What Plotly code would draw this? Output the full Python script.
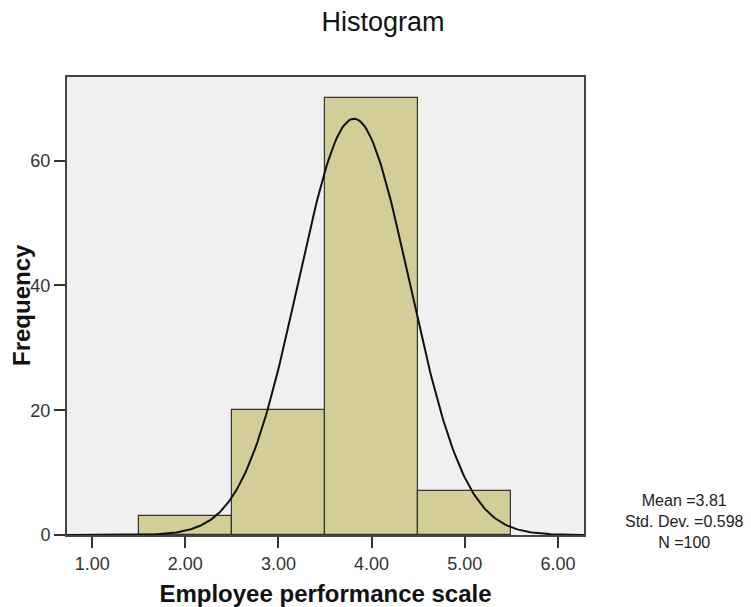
import numpy as np
import plotly.graph_objects as go

# Data
bin_centers = [2.0, 3.0, 4.0, 5.0]
frequencies = [3, 20, 70, 7]
bin_width = 1.0
mean_val = 3.81
std_val = 0.598
n_val = 100
x_ticks = [1, 2, 3, 4, 5, 6]
y_ticks = [0, 20, 40, 60]
stats_lines = [f"Mean ={mean_val:.2f}", f"Std. Dev. ={std_val:.3f}", f"N ={n_val}"]

fig = go.Figure()
fig.add_trace(go.Bar(
    x=bin_centers, y=frequencies, width=bin_width,
    marker=dict(color="#D3CE97", line=dict(color="#333333", width=1.2)),
    hoverinfo="x+y", showlegend=False,
))

# fitted normal curve, from the stated mean / std / N
xs = np.linspace(0.73, 6.28, 300)
ys = n_val * bin_width / (std_val * np.sqrt(2 * np.pi)) * np.exp(-0.5 * ((xs - mean_val) / std_val) ** 2)
fig.add_trace(go.Scatter(x=xs, y=ys, mode="lines",
                         line=dict(color="#111111", width=2), showlegend=False, hoverinfo="skip"))

font_family = "Liberation Sans, Arial, sans-serif"
L, R, T, B = 67, 167, 77, 72
W, H = 751, 607
PW, PH = W - L - R, H - T - B
fig.update_layout(
    width=W, height=H,
    margin=dict(l=L, r=R, t=T, b=B, autoexpand=False),
    paper_bgcolor="white", plot_bgcolor="#F0F0F0",
    bargap=0,
    title=dict(text="Histogram", x=383 / W, xanchor="center", y=1 - 22 / H, yanchor="middle",
               font=dict(family=font_family, size=27, color="#111111")),
    font=dict(family=font_family, size=18, color="#333333"),
    xaxis=dict(range=[0.73, 6.28], tickvals=x_ticks, tickformat=".2f", automargin=False,
               ticks="outside", ticklen=11, tickcolor="#333333", tickwidth=1.5,
               showgrid=False, zeroline=False,
               showline=True, linecolor="#444444", linewidth=2, mirror=True,
               title=dict(text="<b>Employee performance scale</b>",
                          font=dict(family=font_family, size=24, color="#111111"), standoff=15),
               tickfont=dict(size=18, color="#333333")),
    yaxis=dict(range=[0, 73.4], tickvals=y_ticks, automargin=False,
               ticks="outside", ticklen=11, tickcolor="#333333", tickwidth=1.5,
               showgrid=False, zeroline=False,
               showline=True, linecolor="#444444", linewidth=2, mirror=True,
               tickfont=dict(size=18, color="#333333")),
)

# y-axis title
fig.add_annotation(
    text="<b>Frequency</b>", xref="paper", yref="paper",
    x=(21 - L) / PW, y=(H - B - 305) / PH, textangle=-90,
    xanchor="center", yanchor="middle", showarrow=False,
    font=dict(family=font_family, size=24, color="#111111"),
)

fig.add_annotation(
    text="<br>".join(stats_lines), xref="paper", yref="paper",
    x=(684 - L) / PW, y=(H - B - 521) / PH,
    xanchor="center", yanchor="middle", showarrow=False, align="center",
    font=dict(family=font_family, size=16, color="#222222"),
)

fig.write_html("out.html", config={"displayModeBar": False},
               post_script="document.body.style.margin='0';document.body.style.overflow='hidden';")
